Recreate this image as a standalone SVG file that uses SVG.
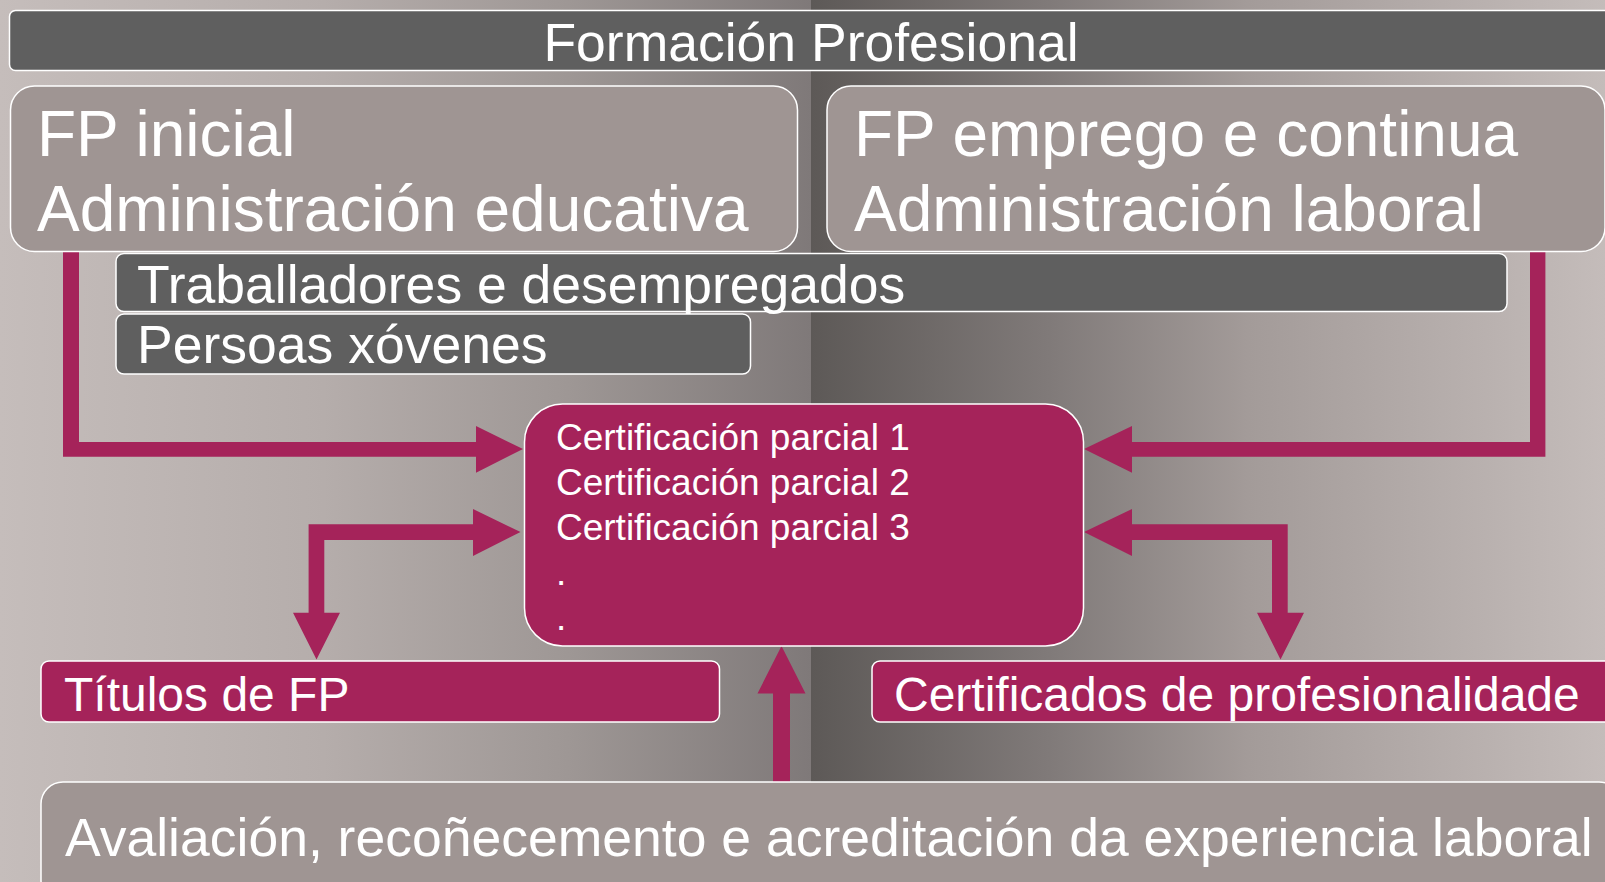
<svg xmlns="http://www.w3.org/2000/svg" width="1605" height="882" viewBox="0 0 1605 882">
<defs>
<linearGradient id="bgL" x1="0" y1="0" x2="1" y2="0">
<stop offset="0" stop-color="#c5bdbb"/>
<stop offset="0.4" stop-color="#b5adab"/>
<stop offset="0.7" stop-color="#9e9795"/>
<stop offset="1" stop-color="#7f7979"/>
</linearGradient>
<linearGradient id="bgR" x1="0" y1="0" x2="1" y2="0">
<stop offset="0" stop-color="#5d5957"/>
<stop offset="0.3" stop-color="#807a79"/>
<stop offset="0.55" stop-color="#a39b99"/>
<stop offset="1" stop-color="#c4bcba"/>
</linearGradient>
<style>
.dark{fill:#5f5f5f;stroke:#ffffff;stroke-width:1.5}
.grey{fill:#9f9593;stroke:#ffffff;stroke-width:1.5}
.mag{fill:#a5235a;stroke:#ffffff;stroke-width:1.5}
.arr{fill:#a5235a;stroke:none}
text{font-family:"Liberation Sans",Arial,sans-serif;fill:#ffffff}
.t64{font-size:64px}
.t53{font-size:53.5px}
.t48{font-size:48px}
.t37{font-size:37px}
</style>
</defs>
<g id="background">
<rect x="0" y="0" width="811" height="882" fill="url(#bgL)"/>
<rect x="811" y="0" width="794" height="882" fill="url(#bgR)"/>
</g>
<g id="connectors">
<polygon class="arr" points="63,251 79,251 79,442 476,442 476,426 523,449 476,472.7 476,456.7 63,456.7"/>
<polygon class="arr" points="520.5,532 473,556 473,540 324.3,540 324.3,612.7 340,612.7 316.5,659.5 293,612.7 308.6,612.7 308.6,524.3 473,524.3 473,509"/>
<polygon class="arr" points="1545.4,251 1530,251 1530,442 1132,442 1132,426 1084,449 1132,472.7 1132,456.7 1545.4,456.7"/>
<polygon class="arr" points="1084,532 1132,509 1132,524.3 1287.7,524.3 1287.7,612.7 1304,612.7 1280.5,659.5 1257,612.7 1272,612.7 1272,540 1132,540 1132,556"/>
<polygon class="arr" points="773,782 773,693.5 757.5,693.5 781.5,646 805.5,693.5 790,693.5 790,782"/>
</g>
<g id="formacion">
<rect class="dark" x="9.5" y="10.5" width="1605" height="60" rx="6"/>
<text class="t53" x="811" y="61" text-anchor="middle">Formación Profesional</text>
</g>
<g id="fp-inicial">
<rect class="grey" x="10.5" y="86" width="787" height="165.5" rx="24"/>
<text class="t64" x="37" y="156">FP inicial</text>
<text class="t64" x="37" y="231">Administración educativa</text>
</g>
<g id="fp-emprego">
<rect class="grey" x="827" y="86" width="778" height="165.5" rx="24"/>
<text class="t64" x="854" y="156">FP emprego e continua</text>
<text class="t64" x="854" y="231">Administración laboral</text>
</g>
<g id="traballadores">
<rect class="dark" x="116" y="253.5" width="1391" height="58" rx="8"/>
<text class="t53" x="137" y="302.5">Traballadores e desempregados</text>
</g>
<g id="persoas">
<rect class="dark" x="116" y="314" width="634.5" height="60" rx="8"/>
<text class="t53" x="137" y="362.5">Persoas xóvenes</text>
</g>
<g id="certificacion">
<rect class="mag" x="524.5" y="404" width="559" height="242" rx="38"/>
<text class="t37" x="556" y="450">Certificación parcial 1</text>
<text class="t37" x="556" y="495">Certificación parcial 2</text>
<text class="t37" x="556" y="540">Certificación parcial 3</text>
<text class="t37" x="556" y="585">.</text>
<text class="t37" x="556" y="630">.</text>
</g>
<g id="titulos">
<rect class="mag" x="41" y="661" width="678.5" height="61" rx="8"/>
<text class="t48" x="64" y="711">Títulos de FP</text>
</g>
<g id="certificados">
<rect class="mag" x="872" y="661" width="750" height="61" rx="8"/>
<text class="t48" x="894" y="711">Certificados de profesionalidade</text>
</g>
<g id="avaliacion">
<rect class="grey" x="41" y="782" width="1580" height="120" rx="22"/>
<text class="t53" x="65" y="856">Avaliación, recoñecemento e acreditación da experiencia laboral</text>
</g>
</svg>
